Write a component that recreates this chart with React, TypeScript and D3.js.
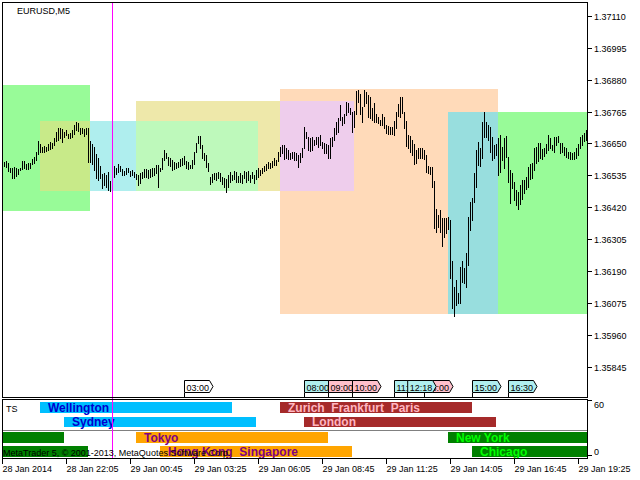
import { useEffect, useRef } from 'react'
import * as d3 from 'd3'

const SYMBOL = 'EURUSD,M5'
const COPYRIGHT = 'MetaTrader 5, © 2001-2013, MetaQuotes Software Corp.'
const INDICATOR = 'TS'

// M5 bars, first one at 28 Jan 2014 19:30 (chart time)
const FIRST_BAR = '2014-01-28T19:30:00Z'
const BAR_MINUTES = 5

const HIGH = [
  1.36584, 1.36588, 1.36580, 1.36562, 1.36562, 1.36566, 1.36562, 1.36559, 1.36562, 1.36588,
  1.36588, 1.36577, 1.36580, 1.36580, 1.36595, 1.36602, 1.36620, 1.36660, 1.36649, 1.36638,
  1.36642, 1.36638, 1.36649, 1.36656, 1.36652, 1.36670, 1.36692, 1.36707, 1.36707, 1.36703,
  1.36692, 1.36699, 1.36685, 1.36689, 1.36699, 1.36717, 1.36728, 1.36725, 1.36707, 1.36707,
  1.36703, 1.36707, 1.36707, 1.36660, 1.36649, 1.36638, 1.36613, 1.36598, 1.36570, 1.36541,
  1.36544, 1.36537, 1.36548, 1.36515, 1.36570, 1.36570, 1.36562, 1.36577, 1.36570, 1.36559,
  1.36552, 1.36562, 1.36562, 1.36552, 1.36555, 1.36548, 1.36541, 1.36537, 1.36544, 1.36548,
  1.36559, 1.36559, 1.36555, 1.36559, 1.36562, 1.36562, 1.36573, 1.36573, 1.36562, 1.36598,
  1.36627, 1.36616, 1.36602, 1.36598, 1.36591, 1.36584, 1.36580, 1.36584, 1.36595, 1.36598,
  1.36606, 1.36588, 1.36584, 1.36573, 1.36591, 1.36620, 1.36652, 1.36678, 1.36678, 1.36645,
  1.36616, 1.36609, 1.36580, 1.36530, 1.36541, 1.36544, 1.36544, 1.36548, 1.36544, 1.36530,
  1.36526, 1.36523, 1.36537, 1.36548, 1.36537, 1.36552, 1.36548, 1.36533, 1.36544, 1.36537,
  1.36552, 1.36548, 1.36552, 1.36537, 1.36548, 1.36537, 1.36555, 1.36562, 1.36555, 1.36562,
  1.36570, 1.36577, 1.36584, 1.36580, 1.36588, 1.36598, 1.36591, 1.36620, 1.36638, 1.36645,
  1.36645, 1.36634, 1.36627, 1.36616, 1.36620, 1.36620, 1.36616, 1.36609, 1.36616, 1.36634,
  1.36710, 1.36692, 1.36674, 1.36670, 1.36674, 1.36663, 1.36674, 1.36674, 1.36681, 1.36656,
  1.36652, 1.36649, 1.36645, 1.36670, 1.36674, 1.36707, 1.36728, 1.36743, 1.36789, 1.36746,
  1.36757, 1.36800, 1.36797, 1.36779, 1.36764, 1.36768, 1.36840, 1.36844, 1.36829, 1.36782,
  1.36844, 1.36836, 1.36826, 1.36818, 1.36779, 1.36797, 1.36757, 1.36746, 1.36735, 1.36757,
  1.36746, 1.36717, 1.36714, 1.36710, 1.36710, 1.36732, 1.36764, 1.36793, 1.36818, 1.36818,
  1.36764, 1.36732, 1.36681, 1.36678, 1.36663, 1.36649, 1.36627, 1.36634, 1.36634, 1.36634,
  1.36627, 1.36609, 1.36570, 1.36566, 1.36566, 1.36515, 1.36415, 1.36393, 1.36411, 1.36382,
  1.36382, 1.36382, 1.36386, 1.36375, 1.36227, 1.36133, 1.36159, 1.36112, 1.36205, 1.36227,
  1.36202, 1.36256, 1.36386, 1.36440, 1.36454, 1.36544, 1.36627, 1.36656, 1.36634, 1.36728,
  1.36764, 1.36728, 1.36717, 1.36710, 1.36674, 1.36645, 1.36649, 1.36670, 1.36681, 1.36638,
  1.36670, 1.36678, 1.36602, 1.36555, 1.36544, 1.36512, 1.36483, 1.36476, 1.36501, 1.36519,
  1.36519, 1.36530, 1.36566, 1.36577, 1.36580, 1.36634, 1.36638, 1.36652, 1.36652, 1.36631,
  1.36634, 1.36649, 1.36681, 1.36670, 1.36645, 1.36674, 1.36674, 1.36678, 1.36652, 1.36652,
  1.36638, 1.36634, 1.36620, 1.36620, 1.36616, 1.36620, 1.36634, 1.36649, 1.36674, 1.36681,
  1.36689, 1.36699,
]

const LOW = [
  1.36570, 1.36566, 1.36552, 1.36548, 1.36526, 1.36526, 1.36533, 1.36541, 1.36555, 1.36559,
  1.36562, 1.36559, 1.36559, 1.36562, 1.36577, 1.36580, 1.36591, 1.36613, 1.36620, 1.36620,
  1.36620, 1.36624, 1.36627, 1.36631, 1.36634, 1.36645, 1.36660, 1.36663, 1.36670, 1.36656,
  1.36674, 1.36681, 1.36670, 1.36670, 1.36674, 1.36685, 1.36699, 1.36696, 1.36685, 1.36689,
  1.36678, 1.36685, 1.36584, 1.36584, 1.36577, 1.36555, 1.36526, 1.36519, 1.36526, 1.36490,
  1.36501, 1.36494, 1.36483, 1.36479, 1.36526, 1.36530, 1.36541, 1.36548, 1.36552, 1.36537,
  1.36537, 1.36541, 1.36548, 1.36533, 1.36537, 1.36530, 1.36523, 1.36501, 1.36508, 1.36526,
  1.36530, 1.36530, 1.36526, 1.36530, 1.36533, 1.36537, 1.36544, 1.36494, 1.36552, 1.36559,
  1.36591, 1.36598, 1.36573, 1.36570, 1.36555, 1.36559, 1.36562, 1.36566, 1.36570, 1.36573,
  1.36577, 1.36562, 1.36559, 1.36562, 1.36562, 1.36577, 1.36620, 1.36652, 1.36634, 1.36598,
  1.36591, 1.36566, 1.36552, 1.36505, 1.36512, 1.36523, 1.36519, 1.36526, 1.36515, 1.36505,
  1.36494, 1.36476, 1.36494, 1.36512, 1.36519, 1.36523, 1.36512, 1.36512, 1.36512, 1.36508,
  1.36526, 1.36512, 1.36519, 1.36512, 1.36526, 1.36508, 1.36523, 1.36530, 1.36537, 1.36544,
  1.36552, 1.36555, 1.36562, 1.36562, 1.36566, 1.36573, 1.36573, 1.36588, 1.36606, 1.36616,
  1.36595, 1.36598, 1.36595, 1.36595, 1.36598, 1.36591, 1.36591, 1.36566, 1.36584, 1.36602,
  1.36634, 1.36670, 1.36627, 1.36624, 1.36627, 1.36645, 1.36649, 1.36638, 1.36645, 1.36634,
  1.36616, 1.36616, 1.36598, 1.36598, 1.36642, 1.36663, 1.36685, 1.36692, 1.36735, 1.36717,
  1.36725, 1.36753, 1.36764, 1.36757, 1.36692, 1.36710, 1.36757, 1.36800, 1.36757, 1.36728,
  1.36786, 1.36797, 1.36746, 1.36743, 1.36735, 1.36728, 1.36728, 1.36725, 1.36717, 1.36717,
  1.36707, 1.36689, 1.36685, 1.36685, 1.36685, 1.36681, 1.36707, 1.36750, 1.36746, 1.36760,
  1.36707, 1.36642, 1.36634, 1.36620, 1.36609, 1.36577, 1.36580, 1.36598, 1.36598, 1.36598,
  1.36595, 1.36548, 1.36544, 1.36541, 1.36494, 1.36346, 1.36332, 1.36350, 1.36332, 1.36281,
  1.36314, 1.36328, 1.36343, 1.36166, 1.36058, 1.36029, 1.36068, 1.36076, 1.36076, 1.36151,
  1.36148, 1.36133, 1.36213, 1.36339, 1.36375, 1.36440, 1.36494, 1.36573, 1.36570, 1.36598,
  1.36674, 1.36674, 1.36663, 1.36620, 1.36591, 1.36598, 1.36609, 1.36537, 1.36548, 1.36591,
  1.36562, 1.36602, 1.36512, 1.36436, 1.36490, 1.36447, 1.36429, 1.36415, 1.36433, 1.36451,
  1.36472, 1.36487, 1.36494, 1.36523, 1.36526, 1.36555, 1.36580, 1.36588, 1.36598, 1.36595,
  1.36606, 1.36616, 1.36627, 1.36634, 1.36627, 1.36620, 1.36645, 1.36656, 1.36616, 1.36620,
  1.36609, 1.36602, 1.36598, 1.36595, 1.36595, 1.36595, 1.36598, 1.36609, 1.36634, 1.36645,
  1.36660, 1.36663,
]

const PRICE_TICKS = [
  1.35845, 1.35960, 1.36075, 1.36190, 1.36305, 1.36420,
  1.36535, 1.36650, 1.36765, 1.36880, 1.36995, 1.37110,
]

const TIME_TICKS = [
  '2014-01-28T19:25:00Z', '2014-01-28T22:05:00Z', '2014-01-29T00:45:00Z',
  '2014-01-29T03:25:00Z', '2014-01-29T06:05:00Z', '2014-01-29T08:45:00Z',
  '2014-01-29T11:25:00Z', '2014-01-29T14:05:00Z', '2014-01-29T16:45:00Z',
  '2014-01-29T19:25:00Z',
]

const DAY_SEPARATOR = '2014-01-29T00:00:00Z'

// session range boxes on the price chart (overlaps are XOR-drawn, like MT5)
const BOX_START = ['2014-01-28T14:00:00Z', '2014-01-28T21:00:00Z', '2014-01-29T01:00:00Z', '2014-01-29T07:00:00Z', '2014-01-29T14:00:00Z']
const BOX_END = ['2014-01-28T23:05:00Z', '2014-01-29T06:05:00Z', '2014-01-29T10:05:00Z', '2014-01-29T16:05:00Z', '2014-01-29T23:05:00Z']
const BOX_HIGH = [1.36862, 1.36732, 1.36804, 1.36847, 1.36764]
const BOX_LOW = [1.36407, 1.36479, 1.36479, 1.36036, 1.36036]
const BOX_COLOR = ['#98fb98', '#afeeee', '#eee8aa', '#ffdab9', '#98fb98']

// TS indicator sessions
const SESSION_LABEL = ['', '', 'Wellington', 'Sydney', 'Tokyo', 'Hong Kong  Singapore', 'Zurich  Frankfurt  Paris', 'London', 'New York', 'Chicago']
const SESSION_START = [
  '2014-01-28T14:00:00Z', '2014-01-28T15:00:00Z', '2014-01-28T21:00:00Z', '2014-01-28T22:00:00Z', '2014-01-29T01:00:00Z',
  '2014-01-29T02:00:00Z', '2014-01-29T07:00:00Z', '2014-01-29T08:00:00Z', '2014-01-29T14:00:00Z', '2014-01-29T15:00:00Z',
]
const SESSION_END = [
  '2014-01-28T22:00:00Z', '2014-01-28T23:00:00Z', '2014-01-29T05:00:00Z', '2014-01-29T06:00:00Z', '2014-01-29T09:00:00Z',
  '2014-01-29T10:00:00Z', '2014-01-29T15:00:00Z', '2014-01-29T16:00:00Z', '2014-01-29T22:00:00Z', '2014-01-29T23:00:00Z',
]
const SESSION_ROW = [2, 3, 0, 1, 2, 3, 0, 1, 2, 3]
const SESSION_FILL = ['#008000', '#008000', '#00bfff', '#00bfff', '#ffa500', '#ffa500', '#a52a2a', '#a52a2a', '#008000', '#008000']
const SESSION_TEXT = ['#00ff00', '#00ff00', '#0000cd', '#0000cd', '#800080', '#800080', '#ffb6c1', '#ffb6c1', '#00ff00', '#00ff00']
const ROW_TOP = [59, 42.5, 26, 11]
const ROW_BOTTOM = [47, 31.5, 14, -1]
const IND_MIN = 0
const IND_MAX = 60
const IND_LEVEL = 28

// event tags along the bottom of the price chart (in drawing order)
const TAG_TIMES = ['03:00', '08:00', '09:00', '10:00', '11:45', '13:00', '12:18', '15:00', '16:30']
const TAG_FILL = ['#ffffff', '#afeeee', '#ffc0cb', '#ffc0cb', '#afeeee', '#ffc0cb', '#afeeee', '#afeeee', '#afeeee']

const W = 640
const H = 480
const FONT = '"Liberation Sans", Arial, sans-serif'
const MAIN = { left: 2.5, right: 587.5, top: 2.5, bottom: 397.5 }
const SUB = { top: 399.5, bottom: 458.5 }

export default function App() {
  const svgRef = useRef<SVGSVGElement>(null)

  useEffect(() => {
    if (!svgRef.current) return
    const svg = d3.select(svgRef.current)
    svg.selectAll('*').remove()

    const x = d3.scaleUtc()
      .domain([new Date('2014-01-28T19:25:00Z'), new Date('2014-01-29T19:25:00Z')])
      .range([2.5, 578.5])
    const y = d3.scaleLinear().domain([1.35845, 1.37110]).range([366.6, 16])
    const yi = d3.scaleLinear().domain([IND_MIN, IND_MAX]).range([456, 401])

    svg.append('rect').attr('width', W).attr('height', H).attr('fill', '#fff')

    const defs = svg.append('defs')
    defs.append('clipPath').attr('id', 'clip-main')
      .append('rect').attr('x', 3).attr('y', 3).attr('width', 584).attr('height', 394)
    defs.append('clipPath').attr('id', 'clip-sub')
      .append('rect').attr('x', 3).attr('y', 400).attr('width', 584).attr('height', 58)

    // session boxes, XOR-combined cell by cell
    const boxes = BOX_START.map((s, i) => ({
      x0: Math.max(3, Math.round(x(new Date(s)) - 0.5)),
      x1: Math.min(587, Math.round(x(new Date(BOX_END[i])) - 0.5)),
      y0: Math.max(3, Math.round(y(BOX_HIGH[i]))),
      y1: Math.min(397, Math.round(y(BOX_LOW[i]))),
      c: d3.rgb(BOX_COLOR[i]),
    }))
    const xe = Array.from(new Set(boxes.flatMap(b => [b.x0, b.x1]))).sort((a, b) => a - b)
    const ye = Array.from(new Set(boxes.flatMap(b => [b.y0, b.y1]))).sort((a, b) => a - b)
    const boxG = svg.append('g').attr('shape-rendering', 'crispEdges')
    for (let i = 0; i < xe.length - 1; i++) {
      for (let j = 0; j < ye.length - 1; j++) {
        const cx = (xe[i] + xe[i + 1]) / 2
        const cy = (ye[j] + ye[j + 1]) / 2
        const cover = boxes.filter(b => cx > b.x0 && cx < b.x1 && cy > b.y0 && cy < b.y1)
        if (!cover.length) continue
        let r = 255, g = 255, bl = 255
        cover.forEach(b => {
          r ^= b.c.r ^ 255
          g ^= b.c.g ^ 255
          bl ^= b.c.b ^ 255
        })
        boxG.append('rect')
          .attr('x', xe[i]).attr('y', ye[j])
          .attr('width', xe[i + 1] - xe[i]).attr('height', ye[j + 1] - ye[j])
          .attr('fill', d3.rgb(r, g, bl).formatHex())
      }
    }

    // price bars
    const t0 = new Date(FIRST_BAR).getTime()
    const bars = HIGH.map((h, i) => ({ t: new Date(t0 + i * BAR_MINUTES * 60000), h, l: LOW[i] }))
    svg.append('g')
      .attr('clip-path', 'url(#clip-main)')
      .attr('shape-rendering', 'crispEdges')
      .selectAll('rect')
      .data(bars)
      .join('rect')
      .attr('x', d => x(d.t) - 0.5)
      .attr('y', d => Math.round(y(d.h)))
      .attr('width', 1)
      .attr('height', d => Math.round(y(d.l)) - Math.round(y(d.h)) + 1)
      .attr('fill', '#000')

    // event tags
    const tagG = svg.append('g')
    TAG_TIMES.forEach((tt, i) => {
      const x0 = x(new Date(`2014-01-29T${tt}:00Z`))
      const top = 380.5, bot = 392.5, bw = 25, tip = 3.5
      tagG.append('line')
        .attr('x1', x0).attr('x2', x0).attr('y1', bot).attr('y2', 397)
        .attr('stroke', '#000').attr('shape-rendering', 'crispEdges')
      tagG.append('polygon')
        .attr('points', [[x0, top], [x0 + bw, top], [x0 + bw + tip, (top + bot) / 2], [x0 + bw, bot], [x0, bot]].map(p => p.join(',')).join(' '))
        .attr('fill', TAG_FILL[i])
        .attr('stroke', '#000')
        .attr('stroke-width', 1)
      tagG.append('text')
        .attr('x', x0 + 2).attr('y', 390.5)
        .attr('font-family', FONT).attr('font-size', 9)
        .attr('fill', '#000')
        .text(tt)
    })

    // indicator sub-window
    const subG = svg.append('g').attr('clip-path', 'url(#clip-sub)')
    subG.append('line')
      .attr('x1', 3).attr('x2', 587)
      .attr('y1', Math.round(yi(IND_LEVEL)) + 0.5).attr('y2', Math.round(yi(IND_LEVEL)) + 0.5)
      .attr('stroke', '#808080')
    SESSION_START.forEach((s, i) => {
      const xa = Math.round(x(new Date(s)) - 0.5)
      const xb = Math.round(x(new Date(SESSION_END[i])) - 0.5)
      const r = SESSION_ROW[i]
      const ya = Math.round(yi(ROW_TOP[r]))
      const yb = Math.round(yi(ROW_BOTTOM[r]))
      subG.append('rect')
        .attr('x', xa).attr('y', ya).attr('width', xb - xa).attr('height', yb - ya)
        .attr('fill', SESSION_FILL[i]).attr('shape-rendering', 'crispEdges')
    })
    SESSION_START.forEach((s, i) => {
      if (!SESSION_LABEL[i]) return
      const xa = Math.round(x(new Date(s)) - 0.5)
      const r = SESSION_ROW[i]
      const yc = (yi(ROW_TOP[r]) + yi(ROW_BOTTOM[r])) / 2
      subG.append('text')
        .attr('x', xa + 8).attr('y', yc + 4.3)
        .attr('font-family', FONT).attr('font-size', 12).attr('font-weight', 'bold')
        .attr('fill', SESSION_TEXT[i])
        .style('white-space', 'pre')
        .text(SESSION_LABEL[i])
    })

    // day separator
    const xd = x(new Date(DAY_SEPARATOR))
    svg.append('line')
      .attr('x1', xd).attr('x2', xd).attr('y1', 3).attr('y2', 458)
      .attr('stroke', '#ff00ff').attr('shape-rendering', 'crispEdges')

    // frames
    const frame = svg.append('g').attr('fill', 'none').attr('stroke', '#000').attr('shape-rendering', 'crispEdges')
    frame.append('rect').attr('x', MAIN.left).attr('y', MAIN.top)
      .attr('width', MAIN.right - MAIN.left).attr('height', MAIN.bottom - MAIN.top)
    frame.append('rect').attr('x', MAIN.left).attr('y', SUB.top)
      .attr('width', MAIN.right - MAIN.left).attr('height', SUB.bottom - SUB.top)

    // price axis
    const axG = svg.append('g').attr('font-family', FONT).attr('font-size', 9)
    PRICE_TICKS.forEach(p => {
      const yy = Math.round(y(p)) + 0.5
      axG.append('line').attr('x1', 588).attr('x2', 592).attr('y1', yy).attr('y2', yy)
        .attr('stroke', '#000').attr('shape-rendering', 'crispEdges')
      axG.append('text').attr('x', 594).attr('y', yy + 3.3).attr('fill', '#000')
        .text(d3.format('.5f')(p))
    })
    ;[IND_MAX, IND_MIN].forEach(v => {
      const yy = Math.round(yi(v)) - 0.5
      axG.append('line').attr('x1', 588).attr('x2', 592).attr('y1', yy).attr('y2', yy)
        .attr('stroke', '#000').attr('shape-rendering', 'crispEdges')
      axG.append('text').attr('x', 594).attr('y', v === IND_MAX ? yy + 7.5 : yy - 0.5).attr('fill', '#000')
        .text(String(v))
    })

    // time axis
    const fmtDay = d3.utcFormat('%d %b %Y')
    const fmtTime = d3.utcFormat('%d %b %H:%M')
    TIME_TICKS.forEach((s, i) => {
      const xx = x(new Date(s))
      axG.append('line').attr('x1', xx).attr('x2', xx).attr('y1', 459).attr('y2', 464)
        .attr('stroke', '#000').attr('shape-rendering', 'crispEdges')
      axG.append('text').attr('x', xx).attr('y', 471.5).attr('fill', '#000')
        .text(i === 0 ? fmtDay(new Date(s)) : fmtTime(new Date(s)))
    })

    // captions
    axG.append('text').attr('x', 17).attr('y', 13.5).attr('fill', '#000').text(SYMBOL)
    axG.append('text').attr('x', 6).attr('y', 412).attr('fill', '#000').text(INDICATOR)
    axG.append('text').attr('x', 3).attr('y', 455.5).attr('fill', '#000').text(COPYRIGHT)
  }, [])

  return (
    <svg
      ref={svgRef}
      width={W}
      height={H}
      style={{ position: 'absolute', left: 0, top: 0, display: 'block' }}
    />
  )
}
